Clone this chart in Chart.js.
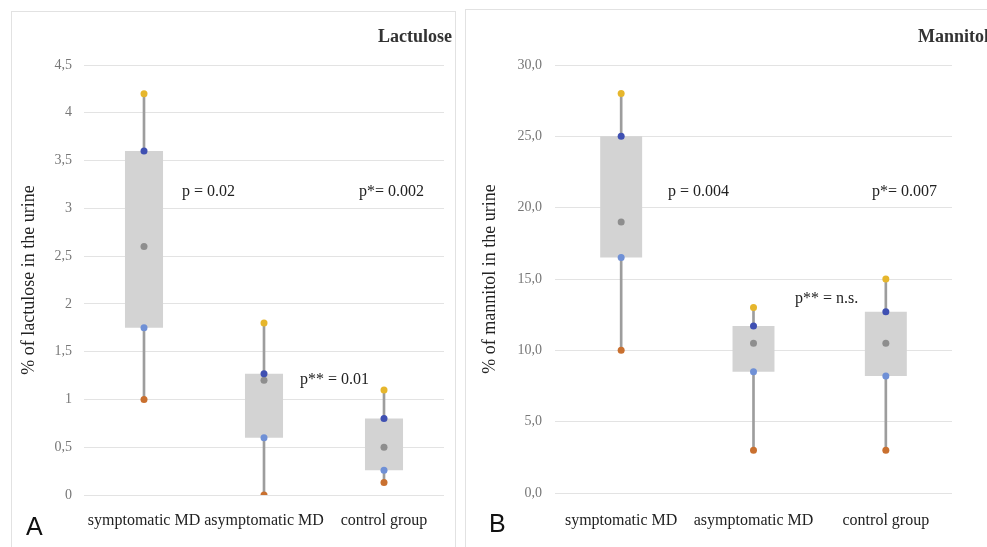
<!DOCTYPE html>
<html>
<head>
<meta charset="utf-8">
<script src="https://cdn.jsdelivr.net/npm/chart.js@4"></script>
<style>
  html, body { margin: 0; padding: 0; background: #fff; }
  body { width: 987px; height: 547px; position: relative; overflow: hidden; }
  .panel { position: absolute; border: 1px solid #e2e2e2; border-bottom: none; }
  .wrap { position: absolute; top: 0; height: 547px; }
  .txt { position: absolute; font-family: "Liberation Serif", serif; color: #222; line-height: 1; white-space: nowrap; }
  .title { font-weight: bold; font-size: 18px; color: #333; }
  .p { font-size: 16px; }
  .letter { position: absolute; font-family: "Liberation Sans", sans-serif; font-size: 25px; line-height: 1; color: #111; }
</style>
</head>
<body>
<div class="panel" style="left:11px; top:11px; width:443px; height:540px;"></div>
<div class="panel" style="left:465px; top:9px; width:540px; height:545px;"></div>

<div class="wrap" style="left:0; width:460px;"><canvas id="lactuloseChart"></canvas></div>
<div class="wrap" style="left:470px; width:517px;"><canvas id="mannitolChart"></canvas></div>

<div class="txt title" style="right:535px; top:27px;">Lactulose</div>
<div class="txt title" style="left:918px; top:27px;">Mannitol</div>

<div class="txt p" style="left:182px; top:183px;">p = 0.02</div>
<div class="txt p" style="left:359px; top:183px;">p*= 0.002</div>
<div class="txt p" style="left:300px; top:371px;">p** = 0.01</div>
<div class="txt p" style="left:668px; top:183px;">p = 0.004</div>
<div class="txt p" style="left:872px; top:183px;">p*= 0.007</div>
<div class="txt p" style="left:795px; top:290px;">p** = n.s.</div>

<div class="letter" style="left:26px; top:514px;">A</div>
<div class="letter" style="left:489px; top:511px;">B</div>

<script>
const categories = ["symptomatic MD", "asymptomatic MD", "control group"];

// Lactulose (% in urine)
const lacMin = [1.0, 0.0, 0.13];
const lacQ1 = [1.75, 0.6, 0.26];
const lacMedian = [2.6, 1.2, 0.5];
const lacQ3 = [3.6, 1.27, 0.8];
const lacMax = [4.2, 1.8, 1.1];

// Mannitol (% in urine)
const manMin = [10, 3, 3];
const manQ1 = [16.5, 8.5, 8.2];
const manMedian = [19, 10.5, 10.5];
const manQ3 = [25, 11.7, 12.7];
const manMax = [28, 13, 15];

const colors = {
  box: "#d3d3d3",
  whisker: "#9d9d9d",
  max: "#e6b62c",
  q3: "#3f50b2",
  median: "#8e8e8e",
  q1: "#6f90d6",
  min: "#c9702f"
};

function pointSet(data, color) {
  return {
    type: "line",
    data: data,
    showLine: false,
    pointRadius: 3.5,
    pointBackgroundColor: color,
    pointBorderWidth: 0,
    order: 1
  };
}

function makeChart(id, mins, q1s, meds, q3s, maxs, opts) {
  const ctx = document.getElementById(id);
  ctx.width = opts.width;
  ctx.height = 547;
  return new Chart(ctx, {
    type: "bar",
    data: {
      labels: categories,
      datasets: [
        {
          // whiskers, drawn behind boxes
          data: mins.map((m, i) => [m, maxs[i]]),
          backgroundColor: colors.whisker,
          barThickness: 2,
          grouped: false,
          order: 3
        },
        {
          data: q1s.map((q, i) => [q, q3s[i]]),
          backgroundColor: colors.box,
          barPercentage: 0.317,
          categoryPercentage: 1,
          grouped: false,
          order: 2
        },
        pointSet(maxs, colors.max),
        pointSet(q3s, colors.q3),
        pointSet(meds, colors.median),
        pointSet(q1s, colors.q1),
        pointSet(mins, colors.min)
      ]
    },
    options: {
      responsive: false,
      animation: false,
      layout: { padding: { top: 65, right: opts.padRight, left: 0, bottom: 0 } },
      plugins: { legend: { display: false }, tooltip: { enabled: false } },
      scales: {
        x: {
          grid: { display: false },
          border: { display: false },
          ticks: {
            color: "#222",
            padding: opts.xPad,
            maxRotation: 0,
            minRotation: 0,
            autoSkip: false,
            font: { family: "Liberation Serif", size: 16 }
          },
          afterFit: (scale) => { scale.height = opts.xHeight; }
        },
        y: {
          min: 0,
          max: opts.max,
          border: { display: false },
          grid: { color: "#e3e3e3", drawTicks: false },
          ticks: {
            stepSize: opts.step,
            padding: opts.yPad,
            color: "#777",
            font: { family: "Liberation Serif", size: 14 },
            callback: opts.format
          },
          title: {
            display: true,
            text: opts.yTitle,
            color: "#222",
            font: { family: "Liberation Serif", size: 18 },
            padding: { top: opts.titlePad, bottom: 0 }
          },
          afterFit: (scale) => { scale.width = opts.yWidth; }
        }
      }
    }
  });
}

makeChart("lactuloseChart", lacMin, lacQ1, lacMedian, lacQ3, lacMax, {
  width: 460,
  padRight: 16,
  max: 4.5,
  step: 0.5,
  format: (v) => String(Math.round(v * 10) / 10).replace(".", ","),
  yTitle: "% of lactulose in the urine",
  yWidth: 84,
  yPad: 12,
  titlePad: 18,
  xHeight: 52,
  xPad: 8
});

makeChart("mannitolChart", manMin, manQ1, manMedian, manQ3, manMax, {
  width: 517,
  padRight: 35,
  max: 30,
  step: 5,
  format: (v) => v.toFixed(1).replace(".", ","),
  yTitle: "% of mannitol in the urine",
  yWidth: 85,
  yPad: 13,
  titlePad: 9,
  xHeight: 54,
  xPad: 10
});
</script>
</body>
</html>
